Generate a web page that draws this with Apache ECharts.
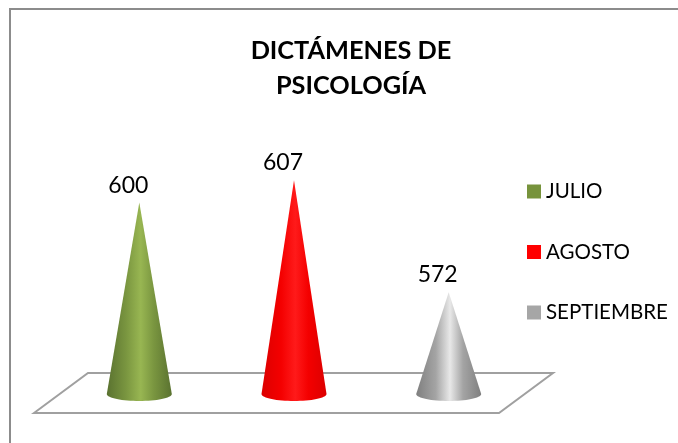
<!DOCTYPE html>
<html>
<head>
<meta charset="utf-8">
<style>html,body{margin:0;padding:0;background:#fff}#chart{width:678px;height:443px}</style>
<script src="https://cdn.jsdelivr.net/npm/echarts@6/dist/echarts.min.js"></script>
</head>
<body>
<div id="chart"></div>
<script>
var months = ['JULIO', 'AGOSTO', 'SEPTIEMBRE'];
var values = [600, 607, 572];
var legendColors = ['#77933c', '#ff0000', '#a6a6a6'];
var edgeColors = ['#5a7230', '#dc0000', '#7f7f7f'];
var bodyColors = ['#7a9640', '#f40000', '#a4a4a4'];
var midColors = ['#98b652', '#ff1a1a', '#e8e8e8'];

var axisMin = 538, axisMax = 620;
var pxPerUnit = 3.2;

// cono con base curva, la curva es proporcional a la altura de cada uno
function conePath(value) {
    var h = (value - axisMin) * pxPerUnit;
    var d = 7 / h * 100;
    var y = 100 - d;
    return 'path://M50 0 L100 ' + y + ' C100 ' + (y + d * 0.6) + ' 75 100 50 100 C25 100 0 ' + (y + d * 0.6) + ' 0 ' + y + ' Z';
}

var chart = echarts.init(document.getElementById('chart'));

var series = months.map(function (name, i) {
    return {
        name: name,
        type: 'pictorialBar',
        data: [values[i]],
        symbol: conePath(values[i]),
        symbolSize: [65, (values[i] - axisMin) * pxPerUnit],
        symbolPosition: 'end',
        barWidth: 65,
        barGap: '138%',
        itemStyle: {
            color: new echarts.graphic.LinearGradient(0, 0, 1, 0, [
                {offset: 0, color: edgeColors[i]},
                {offset: 0.3, color: bodyColors[i]},
                {offset: 0.52, color: midColors[i]},
                {offset: 0.72, color: bodyColors[i]},
                {offset: 1, color: edgeColors[i]}
            ])
        },
        label: {
            show: true,
            position: 'top',
            offset: [-11, -1],
            fontFamily: 'Lato',
            fontSize: 23,
            color: '#000'
        },
        z: 5
    };
});

var option = {
    animation: false,
    backgroundColor: '#fff',
    title: {
        text: 'DICTÁMENES DE\nPSICOLOGÍA',
        left: 346,
        top: 28,
        textAlign: 'center',
        textStyle: {fontFamily: 'Lato', fontWeight: 'bold', fontSize: 25.3, lineHeight: 35, color: '#000'}
    },
    legend: {
        orient: 'vertical',
        left: 522,
        top: 176,
        itemWidth: 14,
        itemHeight: 14,
        itemGap: 39.5,
        textStyle: {fontFamily: 'Lato', fontSize: 20.5, color: '#000'},
        data: months.map(function (m, i) {
            return {name: m, icon: 'rect', itemStyle: {color: legendColors[i]}};
        })
    },
    grid: {left: 61.5, width: 465, top: 138.6, height: 262.4},
    xAxis: {type: 'category', data: ['DICTÁMENES'], show: false},
    yAxis: {type: 'value', min: axisMin, max: axisMax, show: false},
    graphic: [
        {type: 'polyline', z: -1, shape: {points: [[10, 443], [10, 9], [678, 9]]}, style: {fill: null, stroke: '#8c8c8c', lineWidth: 2}},
        {type: 'polygon', z: 0, shape: {points: [[34, 413], [88, 373], [553, 373], [499, 413]]}, style: {fill: '#fff', stroke: '#a0a0a0', lineWidth: 2}}
    ],
    series: series
};
chart.setOption(option);
</script>
</body>
</html>
